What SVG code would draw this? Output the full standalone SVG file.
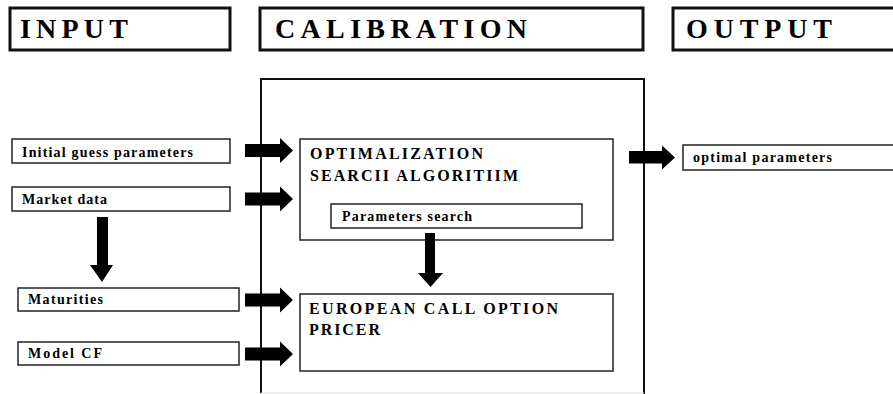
<svg xmlns="http://www.w3.org/2000/svg" width="893" height="394" viewBox="0 0 893 394">
<style>
.hdr{fill:#fff;stroke:#111;stroke-width:3}
.box{fill:#fff;stroke:#222;stroke-width:1.5}
.ht{font-family:"Liberation Serif","DejaVu Serif",serif;font-weight:bold;font-size:28px;fill:#000}
.t{font-family:"Liberation Serif","DejaVu Serif",serif;font-weight:bold;font-size:14px;fill:#000}
.tb{font-family:"Liberation Serif","DejaVu Serif",serif;font-weight:bold;font-size:16px;fill:#000}
.arr{fill:#000}
</style>
<rect width="893" height="394" fill="#fff"/>
<g id="hdr-input"><rect class="hdr" x="10" y="8" width="220" height="42"/><text class="ht" x="20" y="38" textLength="108" lengthAdjust="spacing">INPUT</text></g>
<g id="hdr-calibration"><rect class="hdr" x="260" y="8" width="383" height="42"/><text class="ht" x="275" y="38" textLength="252" lengthAdjust="spacing">CALIBRATION</text></g>
<g id="hdr-output"><rect class="hdr" x="673" y="8" width="240" height="42"/><text class="ht" x="686" y="38" textLength="146" lengthAdjust="spacing">OUTPUT</text></g>
<g id="calibration-frame"><path d="M261,393 V79 H644 V394" fill="none" stroke="#111" stroke-width="2"/><line x1="261" y1="393" x2="644" y2="393" stroke="#ddd" stroke-width="1"/></g>
<g id="initial-guess"><rect class="box" x="12" y="139" width="218" height="24"/><text class="t" x="22" y="157" textLength="171" lengthAdjust="spacing">Initial guess parameters</text></g>
<g id="market-data"><rect class="box" x="12" y="187" width="218" height="24"/><text class="t" x="22" y="204" textLength="85" lengthAdjust="spacing">Market data</text></g>
<g id="maturities"><rect class="box" x="18" y="288" width="221" height="23"/><text class="t" x="28" y="304" textLength="75" lengthAdjust="spacing">Maturities</text></g>
<g id="model-cf"><rect class="box" x="18" y="342" width="221" height="23"/><text class="t" x="28" y="358" textLength="74" lengthAdjust="spacing">Model CF</text></g>
<g id="optimalization"><rect class="box" x="300" y="139" width="313" height="101"/><text class="tb" x="310" y="159" textLength="173" lengthAdjust="spacing">OPTIMALIZATION</text><text class="tb" x="310" y="181" textLength="208" lengthAdjust="spacing">SEARCII ALGORITIIM</text></g>
<g id="parameters-search"><rect class="box" x="331" y="204" width="251" height="24"/><text class="t" x="342" y="221" textLength="130" lengthAdjust="spacing">Parameters search</text></g>
<g id="european-pricer"><rect class="box" x="300" y="294" width="313" height="77"/><text class="tb" x="309" y="314" textLength="249" lengthAdjust="spacing">EUROPEAN CALL OPTION</text><text class="tb" x="309" y="335" textLength="71" lengthAdjust="spacing">PRICER</text></g>
<g id="optimal-parameters"><rect class="box" x="683" y="145" width="230" height="25"/><text class="t" x="693" y="162" textLength="139" lengthAdjust="spacing">optimal parameters</text></g>
<g id="connectors">
<polygon class="arr" points="245,144 280,144 280,138 293,150.5 280,163 280,157 245,157"/>
<polygon class="arr" points="245,192.5 280,192.5 280,186.5 293,199 280,211.5 280,205.5 245,205.5"/>
<polygon class="arr" points="245,293.5 280,293.5 280,287.5 293,300 280,312.5 280,306.5 245,306.5"/>
<polygon class="arr" points="245,347.5 280,347.5 280,341.5 293,354 280,366.5 280,360.5 245,360.5"/>
<polygon class="arr" points="629,151 662,151 662,145.5 675,157.5 662,169.5 662,163.5 629,163.5"/>
<polygon class="arr" points="97,217 108,217 108,265 113,265 102,282 90,265 97,265"/>
<polygon class="arr" points="425,233 435,233 435,273 443,273 430.5,287 418,273 425,273"/>
</g>
</svg>
